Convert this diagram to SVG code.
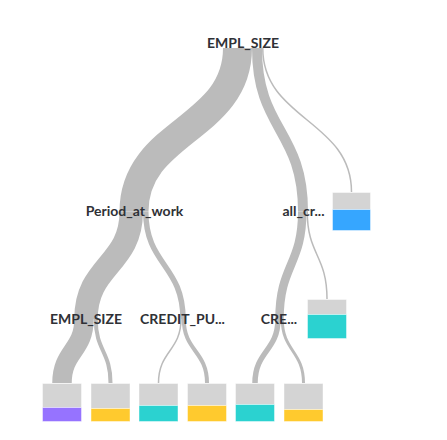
<svg xmlns="http://www.w3.org/2000/svg" width="447" height="440" viewBox="0 0 447 440">
<style>
.lk{fill:none;stroke:#bbbbbb;stroke-linecap:butt}
.lb{font-family:Lato,"Liberation Sans",sans-serif;font-weight:700;font-size:14px;fill:#2f3136;text-anchor:middle}
.bg{fill:#d4d4d4;stroke:#ffffff;stroke-opacity:0.45}
.pu{fill:#9673ff;stroke:#ffffff;stroke-opacity:0.45}
.ye{fill:#ffca2e;stroke:#ffffff;stroke-opacity:0.45}
.cy{fill:#2bd2d0;stroke:#ffffff;stroke-opacity:0.45}
.bl{fill:#36a6ff;stroke:#ffffff;stroke-opacity:0.45}
</style>
<rect width="447" height="440" fill="#ffffff"/>
<g id="links">
<path class="lk" stroke-width="29" d="M237.5 48 C237.5 130 134 130 134 211.5"/>
<path class="lk" stroke-width="10" d="M257 48 C257 130 303 130 303 211.5"/>
<path class="lk" stroke-width="1.5" d="M262.75 48 C262.75 120 351.5 120 351.5 192"/>
<path class="lk" stroke-width="23.5" d="M131.25 211.5 C131.25 265 86 265 86 319"/>
<path class="lk" stroke-width="5.5" d="M145.75 211.5 C145.75 265 183 265 183 319"/>
<path class="lk" stroke-width="8.5" d="M302.25 211.5 C302.25 265 279.5 265 279.5 319"/>
<path class="lk" stroke-width="1.5" d="M307.25 211.5 C307.25 255 327 255 327 299"/>
<path class="lk" stroke-width="19.5" d="M84 319 C84 351 62 351 62 383"/>
<path class="lk" stroke-width="4" d="M95.75 319 C95.75 351 110.5 351 110.5 383"/>
<path class="lk" stroke-width="1.5" d="M181 319 C181 351 158.5 351 158.5 383"/>
<path class="lk" stroke-width="4" d="M183.75 319 C183.75 351 207 351 207 383"/>
<path class="lk" stroke-width="5.5" d="M278 319 C278 351 255 351 255 383"/>
<path class="lk" stroke-width="3" d="M282.25 319 C282.25 351 303.5 351 303.5 383"/>
</g>
<g id="n-root"><text class="lb" x="243" y="48">EMPL_SIZE</text></g>
<g id="n-period"><text class="lb" x="134.5" y="216">Period_at_work</text></g>
<g id="n-allcr"><text class="lb" x="303.5" y="216">all_cr...</text></g>
<g id="n-leaf-right"><rect class="bg" x="332.5" y="192.5" width="38" height="17"/><rect class="bl" x="332.5" y="209.5" width="38" height="21"/></g>
<g id="n-empl2"><text class="lb" x="86" y="324">EMPL_SIZE</text></g>
<g id="n-credit"><text class="lb" x="182.5" y="324">CREDIT_PU...</text></g>
<g id="n-cre"><text class="lb" x="279" y="324">CRE...</text></g>
<g id="n-leaf-cyan"><rect class="bg" x="307.5" y="299.5" width="39" height="15"/><rect class="cy" x="307.5" y="314.5" width="39" height="24"/></g>
<g id="n-leaf1"><rect class="bg" x="42.5" y="383.5" width="39" height="24"/><rect class="pu" x="42.5" y="407.5" width="39" height="14"/></g>
<g id="n-leaf2"><rect class="bg" x="91" y="383.5" width="39" height="25"/><rect class="ye" x="91" y="408.5" width="39" height="13"/></g>
<g id="n-leaf3"><rect class="bg" x="139" y="383.5" width="39" height="22"/><rect class="cy" x="139" y="405.5" width="39" height="16"/></g>
<g id="n-leaf4"><rect class="bg" x="187.5" y="383.5" width="39" height="22"/><rect class="ye" x="187.5" y="405.5" width="39" height="16"/></g>
<g id="n-leaf5"><rect class="bg" x="235.5" y="383.5" width="39" height="21"/><rect class="cy" x="235.5" y="404.5" width="39" height="17"/></g>
<g id="n-leaf6"><rect class="bg" x="284" y="383.5" width="39" height="26"/><rect class="ye" x="284" y="409.5" width="39" height="12"/></g>
</svg>
